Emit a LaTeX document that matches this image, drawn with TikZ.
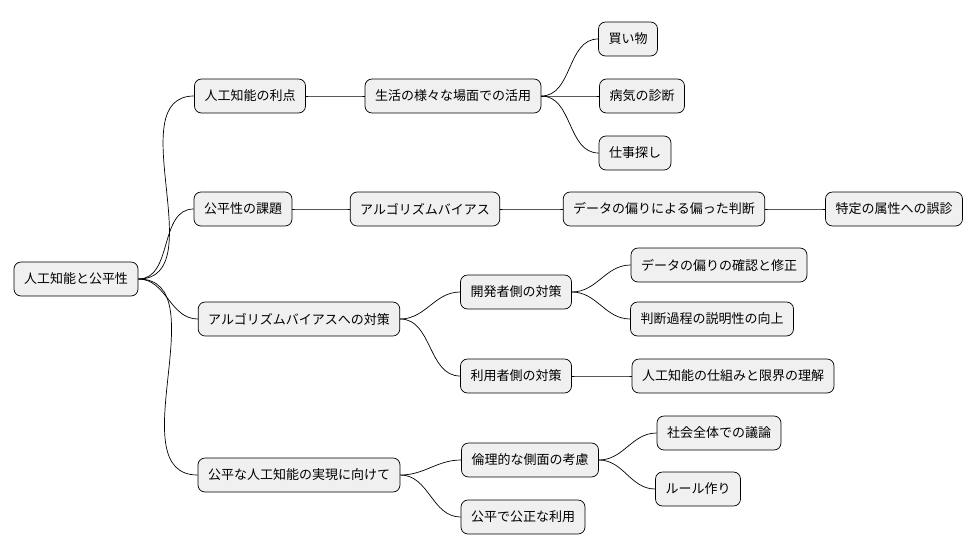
\documentclass[tikz,border=0pt]{standalone}
\usepackage{fontspec}
\setmainfont{Noto Sans CJK JP}
\begin{document}
\begin{tikzpicture}[x=1pt,y=-1pt,
  box/.style={draw=black,line width=0.7pt,rounded corners=7pt,fill=black!6,minimum height=34pt,inner xsep=10pt,font=\fontsize{13}{15}\selectfont},
  link/.style={draw=black,line width=0.7pt}]
\useasboundingbox (0,0) rectangle (978,555);
\node[box] (r) at (76,279) {人工知能と公平性};
\node[box] (a) at (250,96) {人工知能の利点};
\node[box] (a1) at (453,96) {生活の様々な場面での活用};
\node[box] (a11) at (628,39) {買い物};
\node[box] (a12) at (642,96) {病気の診断};
\node[box] (a13) at (635,153) {仕事探し};
\node[box] (b) at (243,209) {公平性の課題};
\node[box] (b1) at (425,209) {アルゴリズムバイアス};
\node[box] (b2) at (664,209) {データの偏りによる偏った判断};
\node[box] (b3) at (894,209) {特定の属性への誤診};
\node[box] (c) at (299,319) {アルゴリズムバイアスへの対策};
\node[box] (c1) at (516,292) {開発者側の対策};
\node[box] (c11) at (719,265) {データの偏りの確認と修正};
\node[box] (c12) at (712,319) {判断過程の説明性の向上};
\node[box] (c2) at (516,376) {利用者側の対策};
\node[box] (c21) at (733,376) {人工知能の仕組みと限界の理解};
\node[box] (d) at (299,475) {公平な人工知能の実現に向けて};
\node[box] (d1) at (530,460) {倫理的な側面の考慮};
\node[box] (d11) at (719,433) {社会全体での議論};
\node[box] (d12) at (698,489) {ルール作り};
\node[box] (d2) at (523,517) {公平で公正な利用};
\foreach \p/\c in {r/a,r/b,r/c,r/d,a/a1,a1/a11,a1/a12,a1/a13,b/b1,b1/b2,b2/b3,c/c1,c/c2,c1/c11,c1/c12,c2/c21,d/d1,d/d2,d1/d11,d1/d12}
  \draw[link] (\p.east) to[out=0,in=180] (\c.west);
\end{tikzpicture}
\end{document}
